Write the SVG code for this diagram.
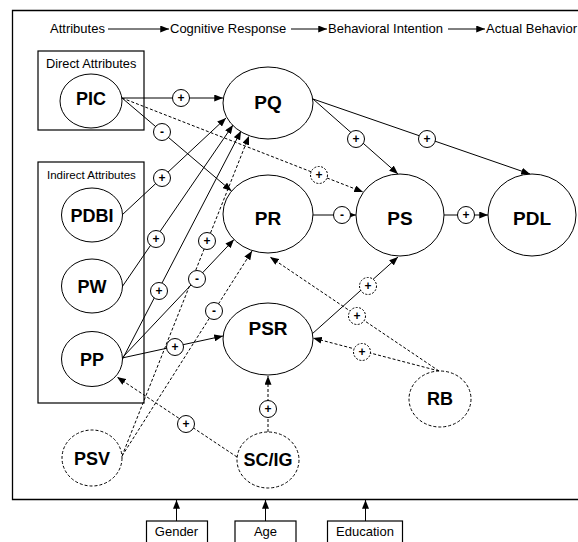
<svg xmlns="http://www.w3.org/2000/svg" width="578" height="542" viewBox="0 0 578 542">
  <style>
    text { font-family: "Liberation Sans", Arial, sans-serif; fill: #000; }
    .hdr { font-size: 13px; }
    .grp { font-size: 12.8px; }
    .grp2 { font-size: 11.5px; }
    .lbl { font-size: 18px; font-weight: bold; text-anchor: middle; }
    .big { font-size: 19px; font-weight: bold; text-anchor: middle; }
    .node { fill: #fff; stroke: #000; stroke-width: 1; }
    .dnode { fill: #fff; stroke: #000; stroke-width: 1; stroke-dasharray: 3 2; }
    .box { fill: none; stroke: #000; stroke-width: 1.2; }
    .edge { fill: none; stroke: #000; stroke-width: 1; marker-end: url(#ah); }
    .dash { stroke-dasharray: 3 2; }
    .sign { fill: #fff; stroke: #000; stroke-width: 1; }
    .dsign { fill: #fff; stroke: #000; stroke-width: 1; stroke-dasharray: 2 1.5; }
    .sg { font-size: 12px; font-weight: bold; text-anchor: middle; }
    .cap { font-size: 13px; text-anchor: middle; }
  </style>
  <defs>
    <marker id="ah" viewBox="0 0 10 8" refX="10" refY="4" markerWidth="9" markerHeight="7" markerUnits="userSpaceOnUse" orient="auto">
      <path d="M0,0 L10,4 L0,8 z" fill="#000"/>
    </marker>
  </defs>

  <rect width="578" height="542" fill="#fff"/>

  <!-- outer frame (right side runs past the canvas) -->
  <path d="M590,10.5 H12.5 V499.5 H590" fill="none" stroke="#000" stroke-width="1.3"/>

  <!-- stage header -->
  <g id="header">
    <text class="hdr" x="50" y="33">Attributes</text>
    <line class="edge" x1="108" y1="29" x2="169" y2="29"/>
    <text class="hdr" x="170" y="33">Cognitive Response</text>
    <line class="edge" x1="291" y1="29" x2="327" y2="29"/>
    <text class="hdr" x="328" y="33">Behavioral Intention</text>
    <line class="edge" x1="448" y1="29" x2="485" y2="29"/>
    <text class="hdr" x="486" y="33">Actual Behavior</text>
  </g>

  <!-- attribute groupings -->
  <g id="direct-attributes">
    <rect class="box" x="38" y="51" width="106" height="79"/>
    <text class="grp" x="46" y="67.5">Direct Attributes</text>
  </g>
  <g id="indirect-attributes">
    <rect class="box" x="38" y="162" width="106" height="241"/>
    <text class="grp2" x="47" y="179">Indirect Attributes</text>
  </g>

  <!-- connectors -->
  <g id="connectors">
    <line class="edge" x1="122" y1="98" x2="223" y2="98"/>
    <line class="edge" x1="122" y1="98" x2="231.5" y2="191"/>
    <line class="edge dash" x1="122" y1="98" x2="363" y2="192"/>
    <line class="edge" x1="122" y1="215" x2="226" y2="118"/>
    <line class="edge" x1="122" y1="287" x2="233" y2="125"/>
    <line class="edge" x1="122" y1="360" x2="241" y2="131"/>
    <line class="edge" x1="122" y1="358" x2="234" y2="239.5"/>
    <line class="edge" x1="122" y1="358" x2="223" y2="336"/>
    <line class="edge dash" x1="122" y1="456" x2="249" y2="136"/>
    <line class="edge dash" x1="122" y1="456" x2="252" y2="251"/>
    <line class="edge dash" x1="237" y1="457" x2="117" y2="377"/>
    <line class="edge dash" x1="268" y1="432" x2="268" y2="376"/>
    <line class="edge dash" x1="439" y1="371" x2="270" y2="257"/>
    <line class="edge dash" x1="439" y1="371" x2="313" y2="338"/>
    <line class="edge" x1="312" y1="334" x2="398" y2="257"/>
    <line class="edge" x1="313" y1="99" x2="398" y2="174"/>
    <line class="edge" x1="313" y1="99" x2="530" y2="174"/>
    <line class="edge" x1="313" y1="215" x2="356" y2="215"/>
    <line class="edge" x1="444" y1="215" x2="488" y2="215"/>
    <!-- control variables feeding the frame -->
    <line class="edge" x1="176.5" y1="521" x2="176.5" y2="500"/>
    <line class="edge" x1="265.5" y1="521" x2="265.5" y2="500"/>
    <line class="edge" x1="365.5" y1="521" x2="365.5" y2="500"/>
  </g>

  <!-- path signs -->
  <g id="signs">
    <circle class="sign" cx="181" cy="98" r="8.5"/><text class="sg" x="181" y="102">+</text>
    <circle class="sign" cx="162" cy="132" r="8.5"/><text class="sg" x="162" y="136">-</text>
    <circle class="dsign" cx="319" cy="175" r="8.5"/><text class="sg" x="319" y="179">+</text>
    <circle class="sign" cx="162" cy="178" r="8.5"/><text class="sg" x="162" y="182">+</text>
    <circle class="sign" cx="156" cy="239" r="8.5"/><text class="sg" x="156" y="243">+</text>
    <circle class="sign" cx="159" cy="291" r="8.5"/><text class="sg" x="159" y="295">+</text>
    <circle class="sign" cx="207" cy="241" r="8.5"/><text class="sg" x="207" y="245">+</text>
    <circle class="sign" cx="197" cy="279" r="8.5"/><text class="sg" x="197" y="283">-</text>
    <circle class="sign" cx="214" cy="311" r="8.5"/><text class="sg" x="214" y="315">-</text>
    <circle class="sign" cx="175" cy="347" r="8.5"/><text class="sg" x="175" y="351">+</text>
    <circle class="sign" cx="186" cy="424" r="8.5"/><text class="sg" x="186" y="428">+</text>
    <circle class="sign" cx="268" cy="409" r="8.5"/><text class="sg" x="268" y="413">+</text>
    <circle class="dsign" cx="357" cy="316" r="8.5"/><text class="sg" x="357" y="320">+</text>
    <circle class="dsign" cx="362" cy="352" r="8.5"/><text class="sg" x="362" y="356">+</text>
    <circle class="dsign" cx="368" cy="286" r="8.5"/><text class="sg" x="368" y="290">+</text>
    <circle class="sign" cx="356" cy="139" r="8.5"/><text class="sg" x="356" y="143">+</text>
    <circle class="sign" cx="427" cy="139" r="8.5"/><text class="sg" x="427" y="143">+</text>
    <circle class="sign" cx="342" cy="215" r="8.5"/><text class="sg" x="342" y="219">-</text>
    <circle class="sign" cx="466" cy="215" r="8.5"/><text class="sg" x="466" y="219">+</text>
  </g>

  <!-- constructs -->
  <g id="PIC"><ellipse class="node" cx="91" cy="101" rx="31" ry="27"/><text class="lbl" x="91" y="104.5">PIC</text></g>
  <g id="PDBI"><ellipse class="node" cx="92" cy="215" rx="30.5" ry="27"/><text class="lbl" x="92" y="221.5">PDBI</text></g>
  <g id="PW"><ellipse class="node" cx="92" cy="286" rx="30.5" ry="27"/><text class="lbl" x="92" y="292.5">PW</text></g>
  <g id="PP"><ellipse class="node" cx="92" cy="359" rx="30.5" ry="27.5"/><text class="lbl" x="92" y="365.5">PP</text></g>
  <g id="PSV"><ellipse class="dnode" cx="92" cy="458" rx="30" ry="28"/><text class="lbl" x="92" y="464.5">PSV</text></g>
  <g id="PQ"><ellipse class="node" cx="268" cy="103" rx="45" ry="36"/><text class="big" x="268" y="109">PQ</text></g>
  <g id="PR"><ellipse class="node" cx="268" cy="214" rx="45" ry="39"/><text class="big" x="268" y="225">PR</text></g>
  <g id="PSR"><ellipse class="node" cx="268" cy="339" rx="45" ry="36"/><text class="big" x="268" y="335">PSR</text></g>
  <g id="PS"><ellipse class="node" cx="400" cy="215" rx="44" ry="41"/><text class="big" x="400" y="225">PS</text></g>
  <g id="PDL"><ellipse class="node" cx="532" cy="215" rx="44" ry="41"/><text class="big" x="532" y="225">PDL</text></g>
  <g id="SCIG"><ellipse class="dnode" cx="268" cy="460" rx="31" ry="28"/><text class="lbl" x="268" y="465.5">SC/IG</text></g>
  <g id="RB"><ellipse class="dnode" cx="440" cy="399" rx="31" ry="28"/><text class="lbl" x="440" y="405">RB</text></g>

  <!-- control variables -->
  <g id="Gender"><rect class="box" x="146.5" y="521" width="61" height="30"/><text class="cap" x="176.5" y="536">Gender</text></g>
  <g id="Age"><rect class="box" x="235" y="521" width="61" height="30"/><text class="cap" x="265.5" y="536">Age</text></g>
  <g id="Education"><rect class="box" x="327.5" y="521" width="75" height="30"/><text class="cap" x="365" y="536">Education</text></g>
</svg>
